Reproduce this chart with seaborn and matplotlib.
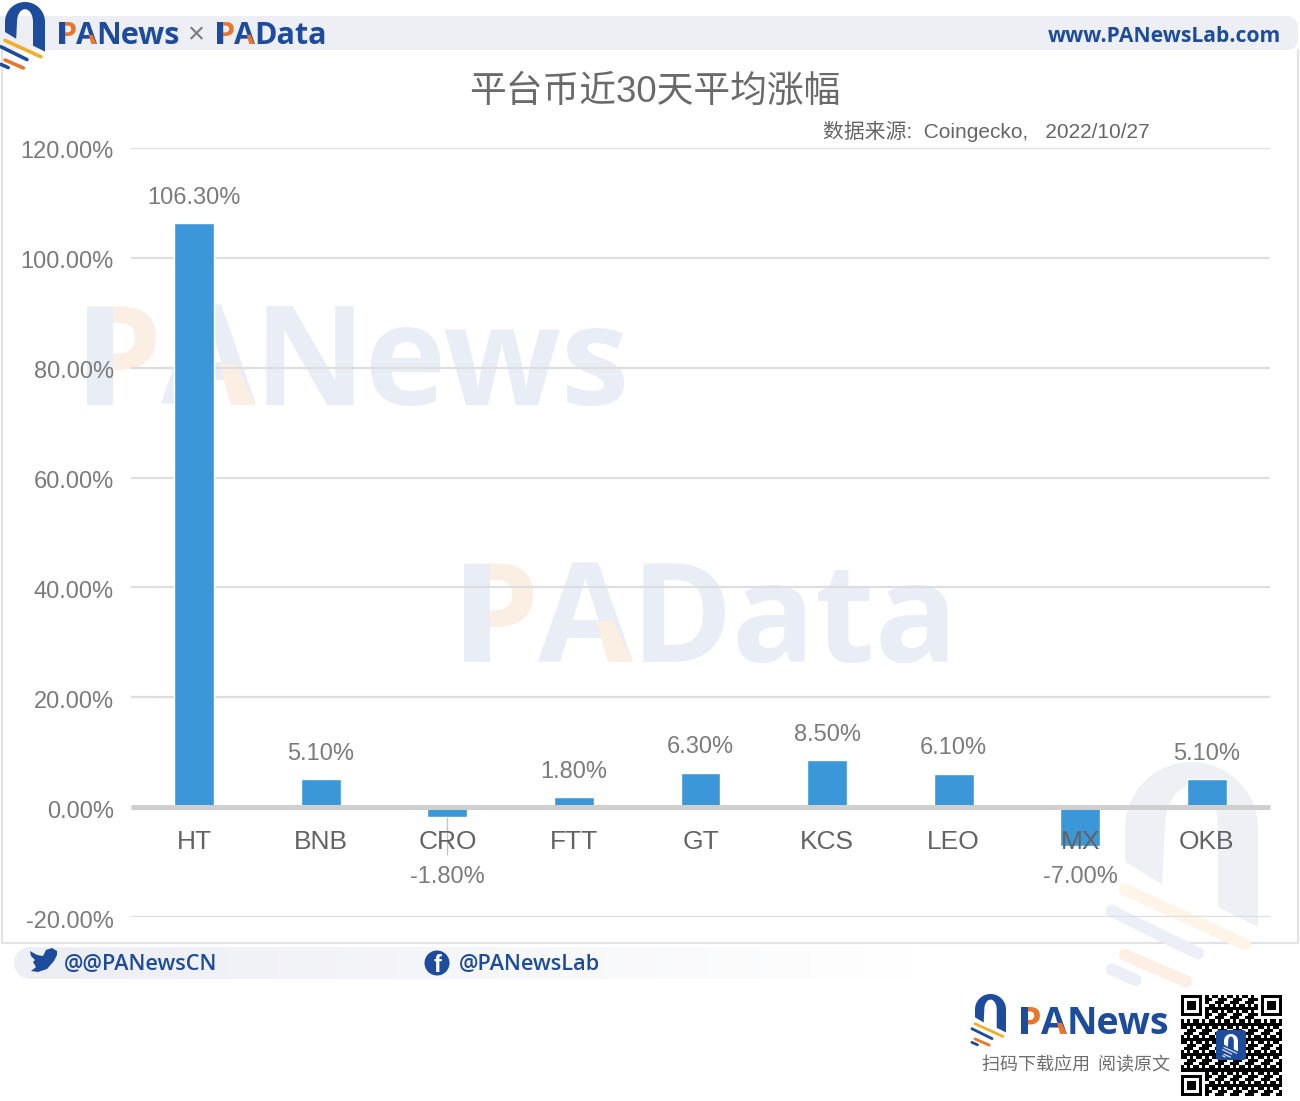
import numpy as np
import pandas as pd
import matplotlib
matplotlib.use("Agg")
import matplotlib.pyplot as plt
from matplotlib.patches import Polygon, Rectangle, FancyBboxPatch, Circle
from matplotlib.transforms import ScaledTranslation
import seaborn as sns

coins = ["HT", "BNB", "CRO", "FTT", "GT", "KCS", "LEO", "MX", "OKB"]
change_30d = [106.3, 5.1, -1.8, 1.8, 6.3, 8.5, 6.1, -7.0, 5.1]
y_ticks = [-20, 0, 20, 40, 60, 80, 100, 120]

title = "平台币近30天平均涨幅"
source = "数据来源:  Coingecko,   2022/10/27"

NAVY = "#1d4c9c"
ORANGE = "#e8762d"
GOLD = "#f0ae2c"
GREY = "#7b7b7b"
BAND = "#eeeff5"

sns.set_theme(style="whitegrid")
plt.rcParams["font.family"] = ["Liberation Sans", "Noto Sans CJK SC", "DejaVu Sans"]

fig = plt.figure(figsize=(13, 11.01), dpi=100, facecolor="white")

# pixel canvas for the poster decoration around the chart
deco = fig.add_axes([0, 0, 1, 1], zorder=0)
deco.set_xlim(0, 1300)
deco.set_ylim(1101, 0)
deco.axis("off")


def draw_logo(ax, x0, y0, w, main=NAVY, gold=GOLD, orange=ORANGE, alt=NAVY):
    t = np.linspace(np.pi, 0, 60)
    outer = np.c_[0.5 + 0.5 * np.cos(t), 0.5 - 0.5 * np.sin(t)]
    inner = np.c_[0.5 + 0.2 * np.cos(t), 0.5 - 0.32 * np.sin(t)]
    pts = np.vstack([[[0, 0.75]], outer, [[1, 1.24], [0.7, 1.09]], inner[::-1], [[0.28, 0.92]]])
    ax.add_patch(Polygon(pts * w + [x0, y0], closed=True, fc=main, ec="none"))
    stripes = [((0.0, 0.96), (0.9, 1.37), gold), ((-0.1, 1.12), (0.55, 1.44), alt),
               ((0.0, 1.45), (0.46, 1.65), orange), ((-0.1, 1.56), (0.08, 1.64), alt)]
    for a, b, c in stripes:
        ax.plot([x0 + a[0] * w, x0 + b[0] * w], [y0 + a[1] * w, y0 + b[1] * w], color=c,
                lw=0.09 * w * 0.72, solid_capstyle="round")


def draw_brand(ax, x, y, word, size, main=NAVY, bowl=ORANGE):
    # y is the baseline; "PA" has coloured accents in the brand mark
    em = size * 100 / 72
    kw = dict(fontsize=size, fontweight="bold", family="Open Sans", va="baseline", ha="left")
    r = ax.figure.canvas.get_renderer()
    p = ax.text(x, y, "P", color=bowl, **kw)
    wp = p.get_window_extent(r).width
    ax.add_patch(Rectangle((x + 0.08 * em, y - 0.714 * em), 0.19 * em, 0.714 * em, fc=main, ec="none", zorder=3))
    xa = x + wp * 0.98
    a = ax.text(xa, y, "A", color=main, **kw)
    wa = a.get_window_extent(r).width
    ax.add_patch(Polygon([[xa + wa * 0.62, y - 0.3 * em], [xa + wa * 0.8, y - 0.3 * em],
                          [xa + wa * 1.0, y], [xa + wa * 0.74, y]],
                         closed=True, fc=bowl, ec="none", zorder=3))
    ax.text(xa + wa * 0.98, y, word, color=main, **kw)


# header band, chart card, footer band
deco.add_patch(FancyBboxPatch((-20, 16), 1318, 34, boxstyle="round,pad=0,rounding_size=12", fc=BAND, ec="none"))
deco.plot([2, 2, 1298, 1298], [50, 943, 943, 50], color="#e3e3e6", lw=1.5)
fade = np.linspace(0, 1, 256).reshape(1, -1, 1)
band = np.dstack([np.full((1, 256, 3), [0.933, 0.937, 0.96]), 1 - fade])
deco.imshow(band, extent=(30, 920, 979, 947), aspect="auto", zorder=1)
deco.add_patch(Circle((30, 963), 16, fc=BAND, ec="none"))
deco.set_xlim(0, 1300)
deco.set_ylim(1101, 0)

# watermarks
draw_brand(deco, 76, 405, "News", 99, main="#e9edf6", bowl="#fbeee2")
draw_brand(deco, 453, 662, "Data", 99, main="#e9edf6", bowl="#fbeee2")
draw_logo(deco, 1125, 762, 133, main="#eef0f6", gold="#fef5e8", orange="#fdefe5", alt="#eceff7")

# top and bottom branding
draw_logo(deco, 5, 2, 40)
draw_brand(deco, 57, 44, "News", 22)
deco.text(196, 35, "×", color=GREY, fontsize=21, ha="center", va="center")
draw_brand(deco, 215, 44, "Data", 22)
deco.text(1281, 36, "www.PANewsLab.com", color=NAVY, fontsize=15.2, fontweight="bold",
          family="Open Sans", ha="right", va="center")

bird = [[30, 951], [37, 955], [43, 956], [46, 950], [52, 948], [57, 951], [57, 955], [54, 961],
        [47, 969], [38, 972], [31, 971], [36, 967], [33, 962], [35, 960], [31, 956]]
deco.add_patch(Polygon(bird, closed=True, fc=NAVY, ec="none"))
deco.text(64, 964, "@@PANewsCN", color=NAVY, fontsize=15.7, fontweight="semibold", family="Open Sans", va="center")
deco.add_patch(Circle((437, 963), 12.5, fc=NAVY, ec="none"))
deco.text(438, 966, "f", color="white", fontsize=17, fontweight="bold", ha="center", va="center")
deco.text(459, 965, "@PANewsLab", color=NAVY, fontsize=15.7, fontweight="semibold", family="Open Sans", va="center")

draw_logo(deco, 975, 994, 31)
draw_brand(deco, 1018, 1034, "News", 27)
deco.text(1170, 1065, "扫码下载应用  阅读原文", color="#6e6e6e", fontsize=13, ha="right", va="center",
          family=["Noto Sans CJK SC", "DejaVu Sans"])

# QR code stand-in
n = 33
ii, jj = np.mgrid[0:n, 0:n]
qr = ((ii * ii * 3 + jj * jj * 5 + ii * jj * 7 + ii + 2 * jj) % 5 < 3).astype(float)
for ci, cj in [(0, 0), (0, n - 7), (n - 7, 0)]:
    qr[max(ci - 1, 0):ci + 8, max(cj - 1, 0):cj + 8] = 0
    qr[ci:ci + 7, cj:cj + 7] = 1
    qr[ci + 1:ci + 6, cj + 1:cj + 6] = 0
    qr[ci + 2:ci + 5, cj + 2:cj + 5] = 1
deco.imshow(1 - qr, cmap="gray", vmin=0, vmax=1, extent=(1181, 1282, 1096, 995), aspect="auto",
            interpolation="nearest", zorder=1)
deco.set_xlim(0, 1300)
deco.set_ylim(1101, 0)
deco.add_patch(FancyBboxPatch((1216, 1030), 30, 30, boxstyle="round,pad=0,rounding_size=3", fc=NAVY, ec="none", zorder=2))
draw_logo(deco, 1224, 1034, 14, main="white", gold="#d7dbe8", orange="#d7dbe8", alt="#d7dbe8")
for artist in deco.patches[-1:] + deco.lines[-4:]:
    artist.set_zorder(4)

# chart
W, H = 1300, 1101
ax = fig.add_axes([131 / W, 1 - 917 / H, (1270 - 131) / W, (917 - 148) / H], zorder=1)
ax.patch.set_alpha(0)

df = pd.DataFrame({"coin": coins, "change": change_30d})
sns.barplot(data=df, x="coin", y="change", color="#3c97d9", saturation=1, width=0.315, ax=ax, zorder=2)

ax.set_xlim(-0.5, len(coins) - 0.5)
ax.set_ylim(-20, 120)
ax.set_yticks(y_ticks)
ax.yaxis.set_major_formatter(lambda v, pos: f"{v:.2f}%")
ax.set_xlabel("")
ax.set_ylabel("")
ax.set_axisbelow(True)
ax.xaxis.set_zorder(3)
ax.grid(False, axis="x")
ax.grid(True, axis="y", color="#dedede", lw=1.6)
ax.tick_params(axis="y", length=0, pad=12.5, labelsize=17, labelcolor=GREY)
ax.tick_params(axis="x", length=0, pad=16.5, labelsize=19, labelcolor="#636363")
shift = ScaledTranslation(0, -2 / 100, fig.dpi_scale_trans)
for lbl in ax.get_yticklabels():
    lbl.set_transform(lbl.get_transform() + shift)
for side in ["left", "right", "top"]:
    ax.spines[side].set_visible(False)
ax.spines["bottom"].set_position(("data", 0))
ax.spines["bottom"].set_color("#cfcfcf")
ax.spines["bottom"].set_linewidth(3.6)
ax.spines["bottom"].set_capstyle("butt")
ax.spines["bottom"].set_zorder(2.5)

for i, v in enumerate(change_30d):
    if v >= 0:
        ax.annotate(f"{v:.2f}%", (i, v), xytext=(0, 10.5), textcoords="offset points", ha="center",
                    va="bottom", fontsize=17, color=GREY, zorder=4)
    else:
        ax.text(i, -12.65, f"{v:.2f}%", ha="center", va="center", fontsize=17, color=GREY, zorder=4)
ax.vlines(coins.index("CRO"), -8.7, -1.8, color="#c4c4c4", lw=1, zorder=2.6)

fig.text(655 / W, 1 - 92 / H, title, fontsize=26.5, color="#6a6a6a", ha="center", va="center")
fig.text(1150 / W, 1 - 131 / H, source, fontsize=15, color="#666666", ha="right", va="center")

fig.savefig("out.png", dpi=100)
